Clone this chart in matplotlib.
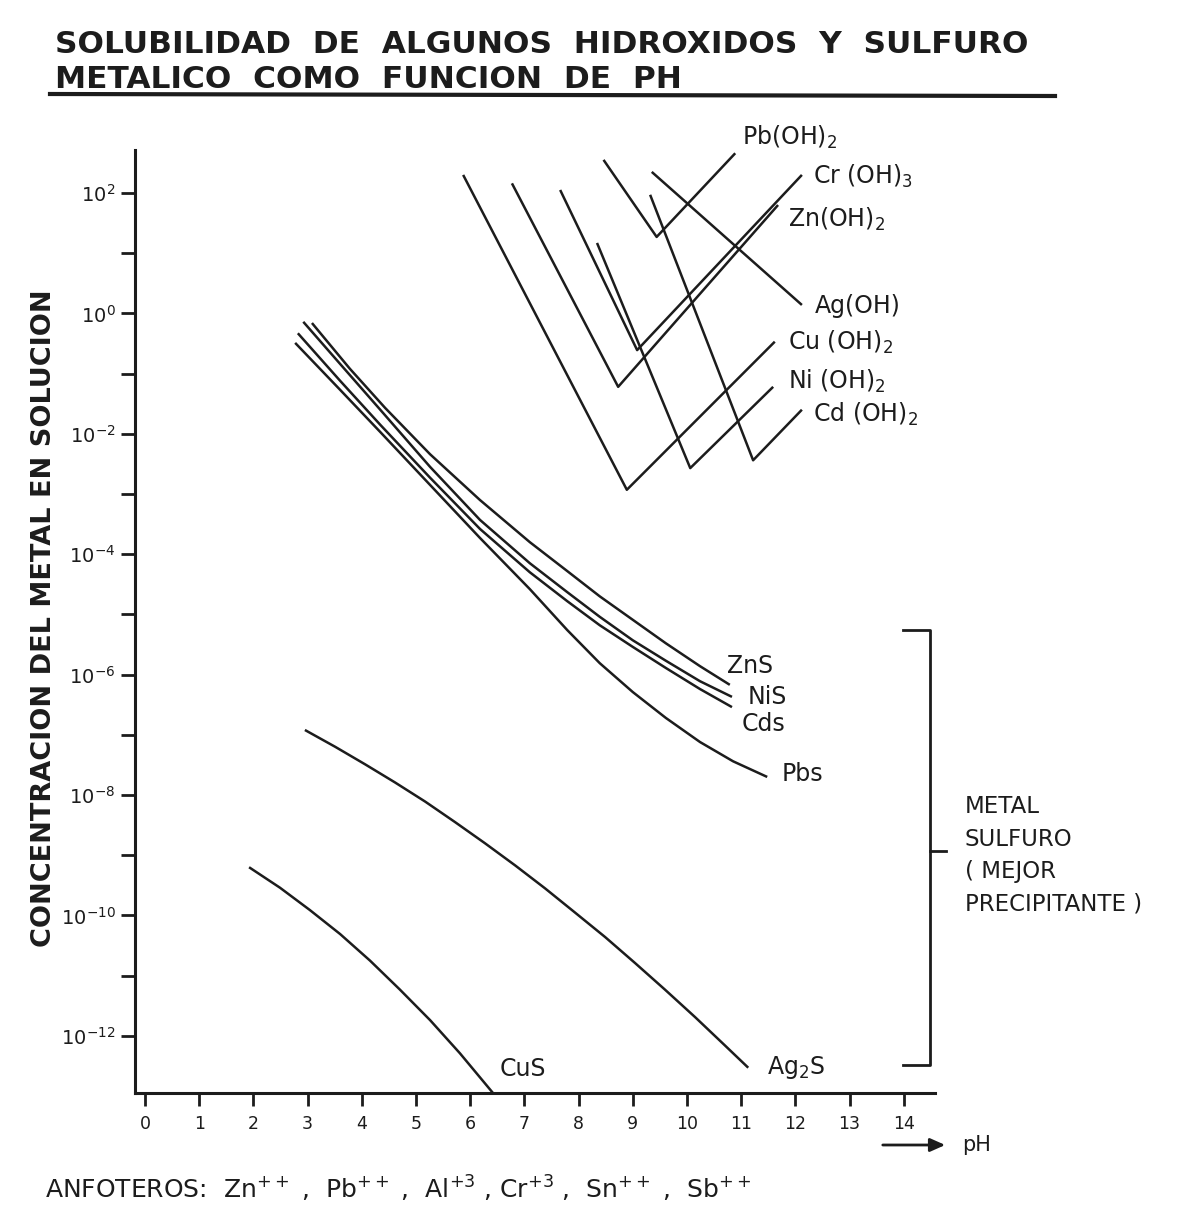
import numpy as np
import matplotlib
matplotlib.use('Agg')
import matplotlib.pyplot as plt
from matplotlib.lines import Line2D
from matplotlib.ticker import FixedLocator, NullFormatter

plt.rcParams['font.family'] = ['DejaVu Sans']
plt.rcParams['mathtext.fontset'] = 'dejavusans'

# ---------------- data (pH, log10 of concentration) ----------------
# hydroxides (V-shaped lines)
cuoh2_ph = [5.87, 8.89, 11.62]
cuoh2_lg = [2.30, -2.93, -0.47]
znoh2_ph = [6.77, 8.73, 11.68]
znoh2_lg = [2.16, -1.22, 1.80]
croh3_ph = [7.66, 9.08, 12.12]
croh3_lg = [2.05, -0.61, 2.30]
nioh2_ph = [8.34, 10.06, 11.59]
nioh2_lg = [1.17, -2.57, -1.22]
cdoh2_ph = [9.32, 11.22, 12.12]
cdoh2_lg = [1.97, -2.44, -1.60]
pboh2_ph = [8.46, 9.44, 10.89]
pboh2_lg = [2.55, 1.27, 2.66]
agoh_ph = [9.35, 12.12]
agoh_lg = [2.35, 0.14]

# sulfides (curves)
zns_ph = [3.08, 3.78, 4.43, 5.26, 6.18, 7.10, 7.79, 8.39, 9.00, 9.61, 10.24, 10.79]
zns_lg = [-0.16, -0.92, -1.57, -2.34, -3.10, -3.80, -4.28, -4.70, -5.09, -5.48, -5.86, -6.17]
nis_ph = [2.92, 3.60, 4.34, 5.26, 6.18, 7.10, 7.79, 8.39, 9.00, 9.61, 10.24, 10.83]
nis_lg = [-0.14, -0.84, -1.60, -2.55, -3.43, -4.15, -4.63, -5.04, -5.43, -5.77, -6.11, -6.37]
cds_ph = [2.82, 3.60, 4.34, 5.26, 6.18, 7.10, 7.79, 8.39, 9.00, 9.61, 10.24, 10.83]
cds_lg = [-0.33, -1.12, -1.85, -2.73, -3.58, -4.30, -4.78, -5.18, -5.54, -5.89, -6.24, -6.54]
pbs_ph = [2.77, 3.60, 4.34, 5.26, 6.18, 7.10, 7.79, 8.39, 9.00, 9.61, 10.24, 10.85, 11.48]
pbs_lg = [-0.49, -1.27, -1.97, -2.85, -3.73, -4.58, -5.26, -5.81, -6.29, -6.72, -7.12, -7.44, -7.70]
ag2s_ph = [2.95, 3.51, 4.06, 4.61, 5.17, 5.72, 6.27, 6.83, 7.38, 7.93, 8.49,
           9.04, 9.59, 10.15, 10.70, 11.13]
ag2s_lg = [-6.92, -7.20, -7.49, -7.79, -8.11, -8.45, -8.80, -9.17, -9.55, -9.95,
           -10.36, -10.79, -11.23, -11.69, -12.16, -12.53]
cus_ph = [1.92, 2.49, 3.04, 3.60, 4.15, 4.70, 5.26, 5.81, 6.42]
cus_lg = [-9.20, -9.54, -9.91, -10.31, -10.75, -11.23, -11.74, -12.29, -12.95]

x_ticks = list(range(0, 15))
y_major_exp = [2, 0, -2, -4, -6, -8, -10, -12]
y_minor_exp = [1, -1, -3, -5, -7, -9, -11]

# ---------------- figure ----------------
W, H = 1200, 1207
fig = plt.figure(figsize=(W / 100, H / 100), dpi=100)
fig.patch.set_facecolor('white')
INK = '#1c1c1c'


def fx(x):
    return x / W


def fy(y):
    return 1 - y / H


ax = fig.add_axes([fx(135), fy(1093), (935 - 135) / W, (1093 - 150) / H])
ax.set_yscale('log')

series = [
    (cuoh2_ph, cuoh2_lg), (znoh2_ph, znoh2_lg), (croh3_ph, croh3_lg),
    (nioh2_ph, nioh2_lg), (cdoh2_ph, cdoh2_lg), (pboh2_ph, pboh2_lg),
    (agoh_ph, agoh_lg),
    (zns_ph, zns_lg), (nis_ph, nis_lg), (cds_ph, cds_lg), (pbs_ph, pbs_lg),
    (ag2s_ph, ag2s_lg), (cus_ph, cus_lg),
]
for ph, lg in series:
    ax.plot(ph, 10.0 ** np.array(lg), color=INK, lw=1.8,
            solid_joinstyle='round', solid_capstyle='butt')

ax.set_xlim(-0.185, 14.576)
ax.set_ylim(10 ** -12.95, 10 ** 2.714)

for s in ['top', 'right']:
    ax.spines[s].set_visible(False)
for s in ['left', 'bottom']:
    ax.spines[s].set_linewidth(2.2)
    ax.spines[s].set_color(INK)

ax.set_xticks(x_ticks)
ax.set_xticklabels([str(t) for t in x_ticks])
ax.yaxis.set_major_locator(FixedLocator([10.0 ** e for e in y_major_exp]))
ax.yaxis.set_minor_locator(FixedLocator([10.0 ** e for e in y_minor_exp]))
ax.yaxis.set_minor_formatter(NullFormatter())
ax.set_yticklabels([r'$10^{%d}$' % e for e in y_major_exp])
ax.tick_params(axis='y', which='both', direction='out', length=10, width=2,
               color=INK, labelsize=14, pad=4, labelcolor=INK)
ax.tick_params(axis='x', direction='out', length=9, width=2, color=INK,
               labelsize=12.5, pad=7, labelcolor=INK)

# ---------------- texts ----------------
fig.text(fx(55), fy(53), 'SOLUBILIDAD  DE  ALGUNOS  HIDROXIDOS  Y  SULFURO',
         fontsize=22.5, fontweight='bold', color=INK, ha='left', va='baseline')
fig.text(fx(55), fy(88), 'METALICO  COMO  FUNCION  DE  PH',
         fontsize=22.5, fontweight='bold', color=INK, ha='left', va='baseline')
fig.add_artist(Line2D([fx(50), fx(1055)], [fy(94), fy(96)], color=INK,
                      lw=3, transform=fig.transFigure))

fig.text(fx(44), fy(618), 'CONCENTRACION DEL METAL EN SOLUCION', rotation=90,
         fontsize=19.5, fontweight='bold', color=INK, ha='center', va='center')

labels = [
    ('Pb(OH)$_2$', 742, 145), ('Cr (OH)$_3$', 813, 184),
    ('Zn(OH)$_2$', 788, 227), ('Ag(OH)', 815, 313),
    ('Cu (OH)$_2$', 788, 350), ('Ni (OH)$_2$', 788, 389),
    ('Cd (OH)$_2$', 813, 422),
    ('ZnS', 727, 673), ('NiS', 748, 704), ('Cds', 742, 731),
    ('Pbs', 782, 781), ('CuS', 500, 1076), ('Ag$_2$S', 767, 1074),
]
for txt, x, y in labels:
    fig.text(fx(x), fy(y), txt, fontsize=17, color=INK, ha='left',
             va='baseline')

# bracket for sulfides
bk = dict(color=INK, lw=2, transform=fig.transFigure)
fig.add_artist(Line2D([fx(903), fx(930), fx(930), fx(903)],
                      [fy(630), fy(630), fy(1065), fy(1065)], **bk))
fig.add_artist(Line2D([fx(930), fx(946)], [fy(851), fy(851)], **bk))
for i, t in enumerate(['METAL', 'SULFURO', '( MEJOR', 'PRECIPITANTE )']):
    fig.text(fx(965), fy(813 + i * 32.5), t, fontsize=16.5, color=INK,
             ha='left', va='baseline')

# pH arrow
ax.annotate('', xy=(fx(948), fy(1145)), xytext=(fx(880), fy(1145)),
            xycoords='figure fraction', textcoords='figure fraction',
            arrowprops=dict(arrowstyle='-|>,head_length=0.9,head_width=0.4',
                            color=INK, lw=2))
fig.text(fx(962), fy(1145), 'pH', fontsize=15, color=INK, ha='left',
         va='center')

fig.text(fx(45), fy(1199),
         r'ANFOTEROS:  Zn$^{++}$ ,  Pb$^{++}$ ,  Al$^{+3}$ , Cr$^{+3}$ ,  '
         r'Sn$^{++}$ ,  Sb$^{++}$',
         fontsize=18, color=INK, ha='left', va='baseline')

fig.savefig('out.png', dpi=100, facecolor='white')
